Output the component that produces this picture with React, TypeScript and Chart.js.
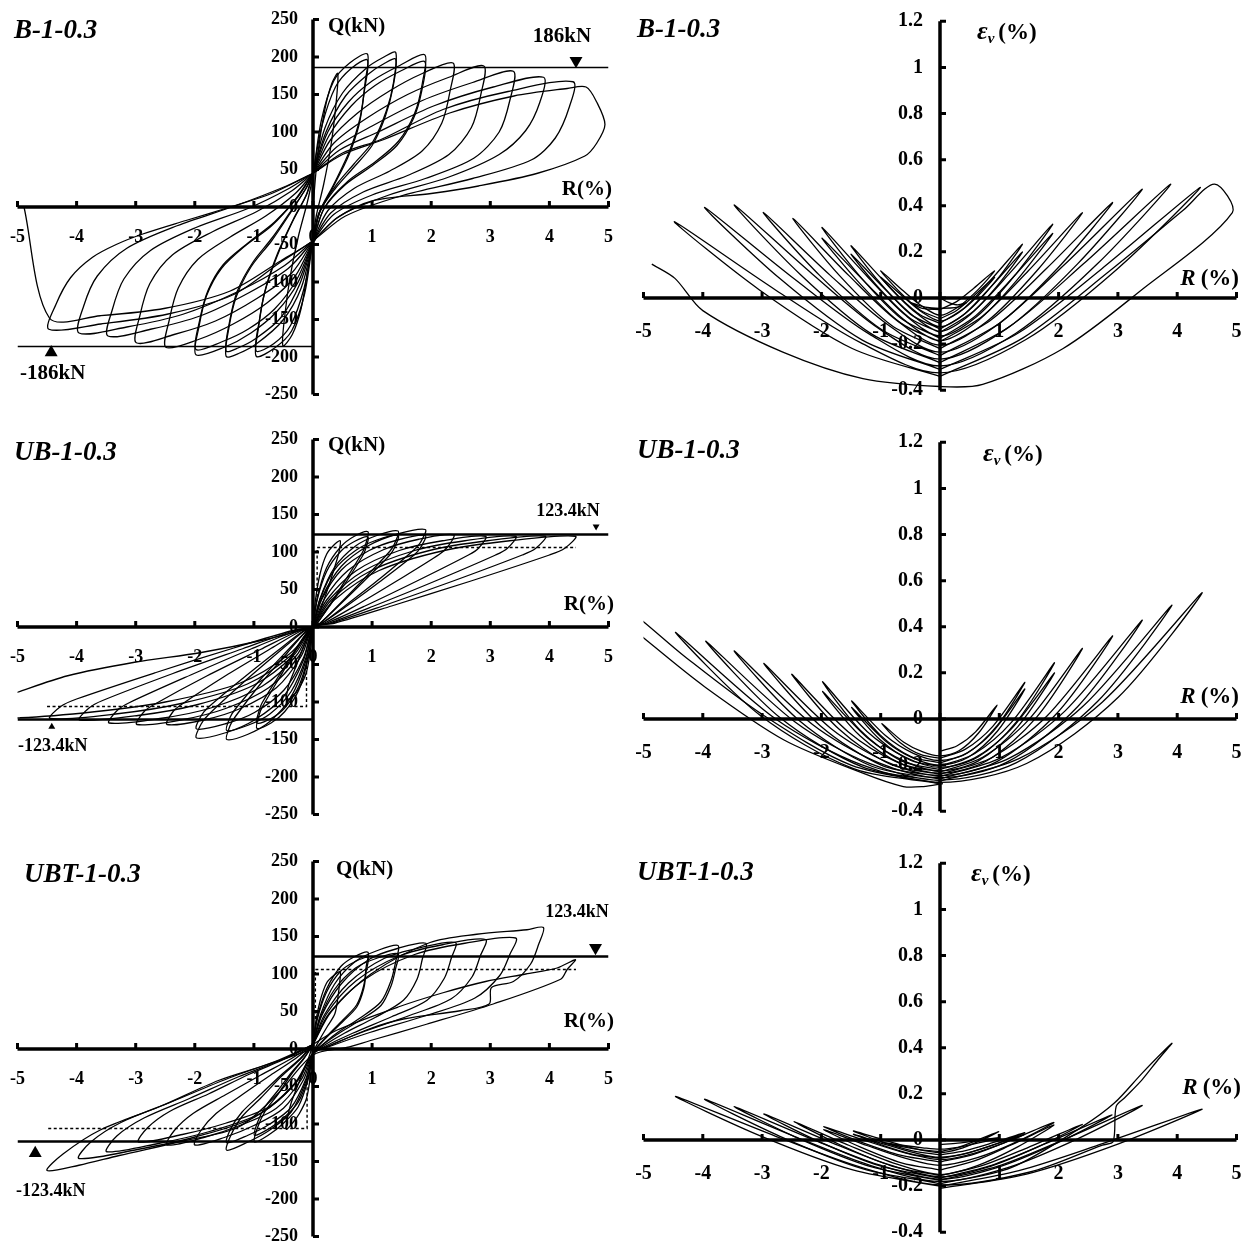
import React, { useEffect, useRef } from 'react';
import { Chart, registerables } from 'chart.js';

Chart.register(...registerables);

type Pt = [number, number];

// ---------------- tick labels ----------------
const R_TICKS = [-5, -4, -3, -2, -1, 0, 1, 2, 3, 4, 5];
const Q_TICKS = [250, 200, 150, 100, 50, 0, -50, -100, -150, -200, -250];
const EV_TICKS = [1.2, 1, 0.8, 0.6, 0.4, 0.2, 0, -0.2, -0.4];

// ---------------- reference values ----------------
const B1_PEAK = 186;
const UB_PEAK = 123.4;
const UB_YIELD = 106;

// ---------------- B-1-0.3 : Q vs R ----------------
const B1_Q_LOOPS: Pt[][] = [
  [[0,0],[0.08,70],[0.2,130],[0.32,165],[0.42,178],[0.38,130],[0.3,80],[0.18,30],[0.06,-10],[0,-40],[-0.08,-80],[-0.2,-135],[-0.35,-170],[-0.51,-185],[-0.47,-140],[-0.38,-90],[-0.25,-40],[-0.1,5],[0,40]],
  [[0,40],[0.14,115],[0.35,168],[0.62,192],[0.92,204],[0.88,165],[0.8,120],[0.62,75],[0.35,30],[0.12,-5],[0,-45],[-0.14,-115],[-0.36,-165],[-0.65,-188],[-0.96,-199],[-0.92,-160],[-0.82,-115],[-0.62,-68],[-0.35,-20],[-0.12,15],[0,45]],
  [[0,45],[0.15,108],[0.38,160],[0.65,185],[0.92,196],[0.87,155],[0.78,110],[0.6,68],[0.33,25],[0.1,-10],[0,-45],[-0.15,-108],[-0.38,-158],[-0.66,-182],[-0.96,-192],[-0.91,-152],[-0.8,-108],[-0.6,-62],[-0.33,-16],[-0.1,18],[0,45]],
  [[0,45],[0.2,105],[0.5,152],[0.9,185],[1.2,200],[1.4,206],[1.36,165],[1.24,128],[1.02,88],[0.7,58],[0.4,30],[0.12,-5],[0,-45],[-0.2,-108],[-0.52,-152],[-0.95,-182],[-1.25,-195],[-1.47,-199],[-1.42,-160],[-1.3,-120],[-1.05,-80],[-0.7,-45],[-0.4,-10],[-0.12,25],[0,45]],
  [[0,45],[0.22,100],[0.55,148],[0.95,178],[1.22,192],[1.4,197],[1.35,158],[1.22,120],[1.0,82],[0.68,52],[0.38,25],[0.1,-8],[0,-45],[-0.22,-102],[-0.55,-148],[-0.98,-176],[-1.27,-188],[-1.47,-192],[-1.41,-152],[-1.28,-112],[-1.02,-74],[-0.68,-40],[-0.38,-6],[-0.1,27],[0,45]],
  [[0,45],[0.25,100],[0.6,140],[1.0,168],[1.45,188],[1.89,203],[1.85,165],[1.72,125],[1.45,88],[1.05,60],[0.6,35],[0.2,0],[0,-45],[-0.25,-100],[-0.62,-140],[-1.05,-168],[-1.5,-187],[-1.98,-197],[-1.93,-160],[-1.8,-118],[-1.55,-82],[-1.15,-52],[-0.7,-25],[-0.3,10],[0,45]],
  [[0,45],[0.27,95],[0.65,135],[1.05,162],[1.5,182],[1.89,194],[1.84,155],[1.7,118],[1.42,82],[1.0,55],[0.55,30],[0.18,-3],[0,-45],[-0.27,-96],[-0.65,-136],[-1.1,-163],[-1.55,-180],[-1.98,-190],[-1.92,-152],[-1.78,-112],[-1.52,-77],[-1.1,-48],[-0.65,-20],[-0.25,14],[0,45]],
  [[0,45],[0.3,90],[0.75,125],[1.3,155],[1.85,178],[2.37,192],[2.32,155],[2.18,112],[1.85,75],[1.3,48],[0.7,25],[0.25,-5],[0,-45],[-0.3,-92],[-0.78,-128],[-1.35,-156],[-1.95,-177],[-2.49,-187],[-2.43,-150],[-2.28,-108],[-1.95,-70],[-1.4,-40],[-0.8,-12],[-0.3,18],[0,45]],
  [[0,45],[0.35,85],[0.9,118],[1.6,150],[2.3,173],[2.89,188],[2.84,150],[2.68,106],[2.3,70],[1.6,42],[0.85,20],[0.3,-8],[0,-45],[-0.36,-88],[-0.95,-122],[-1.65,-152],[-2.35,-170],[-2.99,-181],[-2.93,-145],[-2.76,-102],[-2.38,-64],[-1.7,-33],[-0.95,-6],[-0.35,22],[0,45]],
  [[0,45],[0.4,80],[1.0,108],[1.85,142],[2.7,166],[3.39,181],[3.33,142],[3.15,100],[2.72,65],[1.9,38],[1.0,16],[0.35,-10],[0,-45],[-0.42,-82],[-1.1,-115],[-1.9,-145],[-2.75,-163],[-3.47,-172],[-3.4,-138],[-3.2,-96],[-2.75,-58],[-2.0,-28],[-1.1,-2],[-0.4,25],[0,45]],
  [[0,45],[0.45,76],[1.1,100],[2.05,135],[3.05,160],[3.9,173],[3.84,140],[3.6,102],[3.15,70],[2.3,40],[1.25,15],[0.45,-12],[0,-45],[-0.48,-78],[-1.25,-112],[-2.2,-143],[-3.15,-160],[-3.96,-168],[-3.88,-132],[-3.65,-92],[-3.15,-55],[-2.3,-25],[-1.3,2],[-0.45,28],[0,45]],
  [[0,45],[0.5,72],[1.15,90],[2.2,130],[3.3,154],[4.4,167],[4.34,134],[4.1,92],[3.7,63],[2.7,38],[1.5,15],[0.55,-12],[0,-45],[-0.54,-73],[-1.35,-117],[-2.47,-143],[-3.59,-156],[-4.47,-163],[-4.35,-130],[-4.1,-94],[-3.73,-67],[-3.33,-50],[-2.88,-36],[-2.15,-18],[-1.4,0],[-0.7,18],[0,45]],
  [[0,45],[0.5,70],[1.2,90],[2.3,125],[3.4,148],[4.3,158],[4.62,160],[4.8,140],[4.94,110],[4.8,85],[4.6,68],[3.8,45],[2.8,28],[2.0,18],[1.0,8],[0.4,-15],[0,-45],[-0.55,-72],[-1.4,-112],[-2.5,-135],[-3.6,-145],[-4.46,-148],[-4.89,0]],
];

// ---------------- B-1-0.3 : εv vs R ----------------
const B1_EV_LOOPS: Pt[][] = [
  [[0,0],[0.15,-0.02],[0.3,-0.03],[0.45,-0.02],[0.3,-0.04],[0,-0.045],[-0.25,-0.04],[-0.5,-0.02],[-0.3,-0.045],[0,-0.05]],
  [[0,-0.05],[0.28,-0.016],[0.57,0.042],[0.92,0.118],[0.63,0.033],[0.3,-0.04],[0,-0.075],[-0.3,-0.036],[-0.62,0.031],[-1.0,0.118],[-0.68,0.026],[-0.33,-0.053],[0,-0.09]],
  [[0,-0.09],[0.28,-0.054],[0.57,0.009],[0.92,0.09],[0.63,0.006],[0.3,-0.066],[0,-0.1],[-0.3,-0.062],[-0.62,0.005],[-1.0,0.09],[-0.68,0.002],[-0.33,-0.074],[0,-0.11]],
  [[0,-0.11],[0.42,-0.041],[0.86,0.079],[1.39,0.234],[0.95,0.076],[0.46,-0.06],[0,-0.125],[-0.45,-0.055],[-0.93,0.069],[-1.5,0.227],[-1.02,0.068],[-0.5,-0.07],[0,-0.135]],
  [[0,-0.135],[0.42,-0.068],[0.86,0.049],[1.39,0.2],[0.95,0.048],[0.46,-0.083],[0,-0.145],[-0.45,-0.078],[-0.93,0.039],[-1.5,0.19],[-1.02,0.04],[-0.5,-0.089],[0,-0.15]],
  [[0,-0.15],[0.57,-0.056],[1.18,0.109],[1.9,0.32],[1.29,0.107],[0.63,-0.078],[0,-0.165],[-0.6,-0.071],[-1.23,0.094],[-1.99,0.306],[-1.35,0.094],[-0.66,-0.088],[0,-0.175]],
  [[0,-0.175],[0.57,-0.084],[1.18,0.075],[1.9,0.28],[1.29,0.075],[0.63,-0.101],[0,-0.185],[-0.6,-0.096],[-1.23,0.06],[-1.99,0.26],[-1.35,0.062],[-0.66,-0.109],[0,-0.19]],
  [[0,-0.19],[0.72,-0.078],[1.49,0.118],[2.4,0.37],[1.63,0.117],[0.79,-0.102],[0,-0.205],[-0.74,-0.095],[-1.54,0.098],[-2.48,0.345],[-1.69,0.096],[-0.82,-0.118],[0,-0.22]],
  [[0,-0.22],[0.87,-0.093],[1.8,0.129],[2.91,0.414],[1.98,0.128],[0.96,-0.118],[0,-0.235],[-0.89,-0.114],[-1.85,0.098],[-2.98,0.371],[-2.03,0.098],[-0.98,-0.138],[0,-0.25]],
  [[0,-0.25],[1.02,-0.106],[2.11,0.147],[3.41,0.472],[2.32,0.148],[1.13,-0.132],[0,-0.265],[-1.04,-0.131],[-2.15,0.103],[-3.47,0.404],[-2.36,0.103],[-1.15,-0.157],[0,-0.28]],
  [[0,-0.28],[1.17,-0.125],[2.41,0.146],[3.89,0.494],[2.65,0.147],[1.28,-0.153],[0,-0.295],[-1.19,-0.157],[-2.46,0.083],[-3.97,0.393],[-2.7,0.084],[-1.31,-0.183],[0,-0.31]],
  [[0,-0.31],[1.32,-0.152],[2.72,0.125],[4.39,0.48],[2.99,0.126],[1.45,-0.18],[0,-0.325],[-1.34,-0.194],[-2.78,0.036],[-4.48,0.331],[-3.05,0.036],[-1.48,-0.219],[0,-0.34]],
  [[0,-0.34],[1.4,-0.173],[2.87,0.119],[4.1,0.38],[4.63,0.494],[4.93,0.37],[3.35,0.025],[2.07,-0.22],[0.72,-0.375],[0,-0.384],[-1.3,-0.35],[-2.65,-0.235],[-4.0,-0.055],[-4.47,0.085],[-4.86,0.147]],
];

// ---------------- UB-1-0.3 : Q vs R ----------------
const UB_Q_LOOPS: Pt[][] = [
  [[0,0],[0.04,35],[0.12,71],[0.23,97],[0.35,109],[0.46,115],[0.44,100],[0.41,91],[0.28,58],[0.14,26],[0.04,5],[0,0],[-0.04,-29],[-0.11,-60],[-0.23,-81],[-0.34,-92],[-0.45,-97],[-0.43,-84],[-0.41,-77],[-0.27,-49],[-0.14,-22],[-0.04,-4],[0,0]],
  [[0,0],[0.07,38],[0.23,79],[0.47,107],[0.7,121],[0.93,127],[0.89,110],[0.84,100],[0.56,64],[0.28,29],[0.07,5],[0,0],[-0.08,-41],[-0.24,-84],[-0.48,-113],[-0.71,-128],[-0.95,-135],[-0.91,-117],[-0.86,-107],[-0.57,-68],[-0.29,-31],[-0.08,-5],[0,0]],
  [[0,0],[0.07,36],[0.23,74],[0.47,101],[0.7,114],[0.93,120],[0.89,104],[0.84,95],[0.56,60],[0.28,28],[0.07,5],[0,0],[-0.08,-38],[-0.24,-79],[-0.48,-108],[-0.71,-122],[-0.95,-128],[-0.91,-111],[-0.86,-101],[-0.57,-64],[-0.29,-29],[-0.08,-5],[0,0]],
  [[0,0],[0.12,38],[0.36,79],[0.72,108],[1.08,122],[1.44,128],[1.38,111],[1.3,101],[0.86,64],[0.43,29],[0.12,5],[0,0],[-0.12,-45],[-0.37,-93],[-0.73,-126],[-1.1,-143],[-1.46,-150],[-1.4,-131],[-1.31,-119],[-0.88,-75],[-0.44,-35],[-0.12,-6],[0,0]],
  [[0,0],[0.12,37],[0.36,76],[0.72,102],[1.08,116],[1.44,122],[1.38,106],[1.3,96],[0.86,61],[0.43,28],[0.12,5],[0,0],[-0.12,-41],[-0.37,-86],[-0.73,-116],[-1.1,-131],[-1.46,-138],[-1.4,-120],[-1.31,-109],[-0.88,-69],[-0.44,-32],[-0.12,-6],[0,0]],
  [[0,0],[0.15,39],[0.48,81],[0.95,109],[1.43,124],[1.9,130],[1.82,113],[1.71,103],[1.14,65],[0.57,30],[0.15,5],[0,0],[-0.16,-44],[-0.49,-92],[-0.99,-124],[-1.48,-141],[-1.97,-148],[-1.89,-129],[-1.77,-117],[-1.18,-74],[-0.59,-34],[-0.16,-6],[0,0]],
  [[0,0],[0.15,37],[0.48,76],[0.95,102],[1.43,116],[1.9,122],[1.82,106],[1.71,96],[1.14,61],[0.57,28],[0.15,5],[0,0],[-0.16,-41],[-0.49,-84],[-0.99,-114],[-1.48,-129],[-1.97,-136],[-1.89,-118],[-1.77,-107],[-1.18,-68],[-0.59,-31],[-0.16,-5],[0,0]],
  [[0,0],[0.19,37],[0.6,76],[1.19,103],[1.79,117],[2.38,123],[2.28,107],[2.14,97],[1.43,62],[0.71,28],[0.19,5],[0,0],[-0.2,-39],[-0.62,-81],[-1.24,-109],[-1.85,-124],[-2.47,-130],[-2.37,-113],[-2.22,-103],[-1.48,-65],[-0.74,-30],[-0.2,-5],[0,0]],
  [[0,0],[0.23,36],[0.73,75],[1.46,102],[2.19,115],[2.92,121],[2.8,105],[2.63,96],[1.75,61],[0.88,28],[0.23,5],[0,0],[-0.24,-39],[-0.75,-81],[-1.49,-109],[-2.24,-124],[-2.98,-130],[-2.86,-113],[-2.68,-103],[-1.79,-65],[-0.89,-30],[-0.24,-5],[0,0]],
  [[0,0],[0.27,36],[0.86,75],[1.72,102],[2.57,115],[3.43,121],[3.29,105],[3.09,96],[2.06,61],[1.03,28],[0.27,5],[0,0],[-0.28,-38],[-0.86,-79],[-1.73,-108],[-2.59,-122],[-3.45,-128],[-3.31,-111],[-3.11,-101],[-2.07,-64],[-1.04,-29],[-0.28,-5],[0,0]],
  [[0,0],[0.31,36],[0.98,75],[1.97,102],[2.95,115],[3.93,121],[3.77,105],[3.54,96],[2.36,61],[1.18,28],[0.31,5],[0,0],[-0.32,-37],[-0.99,-77],[-1.98,-104],[-2.96,-118],[-3.95,-124],[-3.79,-108],[-3.56,-98],[-2.37,-62],[-1.19,-29],[-0.32,-5],[0,0]],
  [[0,0],[0.36,36],[1.11,75],[2.22,102],[3.33,115],[4.44,121],[4.26,105],[4.0,96],[2.66,61],[1.33,28],[0.36,5],[0,0],[-0.36,-37],[-1.11,-76],[-2.23,-102],[-3.34,-116],[-4.45,-122],[-4.27,-106],[-4.0,-96],[-2.67,-61],[-1.34,-28],[-0.36,-5],[0,0]],
  [[0,0],[-0.4,-36],[-1.24,-75],[-2.5,-100],[-3.7,-113],[-4.95,-121],[-5.3,-118],[-5.3,-96],[-5.0,-87],[-4.15,-65],[-3.02,-47],[-1.89,-34],[-0.76,-16],[0,0]],
];

// ---------------- UB-1-0.3 : εv vs R ----------------
const UB_EV_LOOPS: Pt[][] = [
  [[0,-0.14],[0.29,-0.116],[0.6,-0.056],[0.96,0.06],[0.65,-0.061],[0.32,-0.138],[0,-0.16],[-0.29,-0.143],[-0.61,-0.101],[-0.98,-0.02],[-0.67,-0.103],[-0.32,-0.155],[0,-0.17]],
  [[0,-0.17],[0.43,-0.131],[0.89,-0.032],[1.43,0.159],[0.97,-0.027],[0.47,-0.146],[0,-0.18],[-0.45,-0.149],[-0.92,-0.072],[-1.49,0.078],[-1.01,-0.069],[-0.49,-0.163],[0,-0.19]],
  [[0,-0.19],[0.43,-0.152],[0.89,-0.056],[1.43,0.13],[0.97,-0.052],[0.47,-0.167],[0,-0.2],[-0.45,-0.17],[-0.92,-0.095],[-1.49,0.05],[-1.01,-0.09],[-0.49,-0.18],[0,-0.205]],
  [[0,-0.205],[0.58,-0.151],[1.2,-0.016],[1.93,0.244],[1.31,-0.006],[0.64,-0.165],[0,-0.21],[-0.59,-0.165],[-1.23,-0.054],[-1.98,0.162],[-1.35,-0.048],[-0.65,-0.182],[0,-0.22]],
  [[0,-0.22],[0.58,-0.17],[1.2,-0.044],[1.93,0.2],[1.31,-0.034],[0.64,-0.183],[0,-0.225],[-0.59,-0.184],[-1.23,-0.08],[-1.98,0.12],[-1.35,-0.073],[-0.65,-0.195],[0,-0.23]],
  [[0,-0.23],[0.72,-0.166],[1.49,-0.005],[2.4,0.306],[1.63,0.008],[0.79,-0.181],[0,-0.235],[-0.75,-0.184],[-1.55,-0.055],[-2.5,0.194],[-1.7,-0.045],[-0.83,-0.197],[0,-0.24]],
  [[0,-0.24],[0.87,-0.168],[1.8,0.012],[2.91,0.36],[1.98,0.027],[0.96,-0.185],[0,-0.245],[-0.89,-0.187],[-1.84,-0.041],[-2.97,0.241],[-2.02,-0.029],[-0.98,-0.201],[0,-0.25]],
  [[0,-0.25],[1.02,-0.169],[2.11,0.035],[3.41,0.429],[2.32,0.053],[1.13,-0.187],[0,-0.255],[-1.04,-0.189],[-2.15,-0.024],[-3.47,0.295],[-2.36,-0.01],[-1.15,-0.205],[0,-0.26]],
  [[0,-0.26],[1.17,-0.17],[2.42,0.057],[3.91,0.494],[2.66,0.077],[1.29,-0.189],[0,-0.265],[-1.19,-0.193],[-2.45,-0.012],[-3.95,0.338],[-2.69,0.004],[-1.3,-0.209],[0,-0.27]],
  [[0,-0.27],[1.33,-0.172],[2.74,0.074],[4.42,0.548],[3.01,0.095],[1.46,-0.193],[0,-0.275],[-1.34,-0.197],[-2.77,0.0],[-4.46,0.376],[-3.03,0.015],[-1.47,-0.214],[0,-0.28]],
  [[0,-0.28],[-1.5,-0.2],[-3.0,0.02],[-4.3,0.27],[-5.0,0.422],[-5.3,0.48],[-5.3,0.42],[-4.99,0.35],[-3.97,0.14],[-2.63,-0.091],[-1.29,-0.236],[-0.62,-0.293],[-0.28,-0.293],[0.05,-0.28]],
];

// ---------------- UBT-1-0.3 : Q vs R ----------------
const UBT_Q_LOOPS: Pt[][] = [
  [[0,0],[0.04,33],[0.12,64],[0.23,88],[0.35,98],[0.46,103],[0.45,88],[0.42,68],[0.37,47],[0.25,31],[0.13,15],[0.04,2],[0,-6],[-0.04,-34],[-0.11,-66],[-0.23,-86],[-0.34,-98],[-0.45,-107],[-0.43,-91],[-0.37,-72],[-0.27,-51],[-0.16,-29],[-0.07,-11],[0,6]],
  [[0,6],[0.07,41],[0.23,80],[0.47,110],[0.7,123],[0.93,129],[0.9,110],[0.86,85],[0.74,59],[0.51,39],[0.26,19],[0.07,3],[0,-6],[-0.08,-40],[-0.25,-77],[-0.5,-99],[-0.74,-114],[-0.99,-124],[-0.94,-105],[-0.81,-83],[-0.59,-60],[-0.36,-33],[-0.15,-12],[0,6]],
  [[0,6],[0.07,39],[0.23,76],[0.47,104],[0.7,116],[0.93,122],[0.9,104],[0.86,81],[0.74,56],[0.51,37],[0.26,18],[0.07,2],[0,-6],[-0.08,-37],[-0.25,-71],[-0.5,-92],[-0.74,-106],[-0.99,-115],[-0.94,-98],[-0.81,-77],[-0.59,-55],[-0.36,-31],[-0.15,-12],[0,6]],
  [[0,6],[0.12,44],[0.36,86],[0.72,117],[1.08,131],[1.44,138],[1.4,117],[1.32,91],[1.15,63],[0.79,41],[0.4,21],[0.12,3],[0,-6],[-0.12,-43],[-0.37,-84],[-0.73,-108],[-1.1,-124],[-1.46,-135],[-1.39,-115],[-1.2,-90],[-0.88,-65],[-0.53,-36],[-0.22,-14],[0,6]],
  [[0,6],[0.12,41],[0.36,79],[0.72,108],[1.08,121],[1.44,127],[1.4,108],[1.32,84],[1.15,58],[0.79,38],[0.4,19],[0.12,3],[0,-6],[-0.12,-40],[-0.37,-78],[-0.73,-100],[-1.1,-115],[-1.46,-125],[-1.39,-106],[-1.2,-84],[-0.88,-60],[-0.53,-34],[-0.22,-13],[0,6]],
  [[0,6],[0.15,45],[0.48,87],[0.96,120],[1.43,134],[1.91,141],[1.85,120],[1.76,93],[1.53,65],[1.05,42],[0.53,21],[0.15,3],[0,-6],[-0.16,-41],[-0.5,-79],[-1.0,-102],[-1.5,-118],[-2.0,-128],[-1.9,-109],[-1.64,-86],[-1.2,-61],[-0.72,-35],[-0.3,-13],[0,6]],
  [[0,6],[0.19,45],[0.6,88],[1.21,121],[1.81,135],[2.41,142],[2.34,121],[2.22,94],[1.93,65],[1.33,43],[0.67,21],[0.19,3],[0,-6],[-0.2,-41],[-0.62,-79],[-1.24,-102],[-1.85,-118],[-2.47,-128],[-2.35,-109],[-2.03,-86],[-1.48,-61],[-0.89,-35],[-0.37,-13],[0,6]],
  [[0,6],[0.23,47],[0.73,91],[1.46,124],[2.19,139],[2.92,146],[2.83,124],[2.69,96],[2.34,67],[1.61,44],[0.82,22],[0.23,3],[0,-6],[-0.24,-40],[-0.74,-77],[-1.48,-99],[-2.21,-114],[-2.95,-124],[-2.8,-105],[-2.42,-83],[-1.77,-60],[-1.06,-33],[-0.44,-12],[0,6]],
  [[0,6],[0.27,47],[0.86,92],[1.72,126],[2.57,141],[3.43,148],[3.33,126],[3.16,98],[2.74,68],[1.89,44],[0.96,22],[0.27,3],[0,-6],[-0.28,-44],[-0.87,-85],[-1.75,-110],[-2.62,-126],[-3.49,-137],[-3.32,-116],[-2.86,-92],[-2.09,-66],[-1.26,-37],[-0.52,-14],[0,6]],
  [[0,6],[0.31,50],[0.98,100],[1.98,142],[2.77,153],[3.62,159],[3.9,162],[3.82,140],[3.68,113],[3.39,90],[3.02,82],[2.98,60],[2.49,51],[1.53,40],[0.96,27],[0.3,5],[0,-6],[-0.32,-47],[-0.99,-91],[-1.98,-117],[-2.97,-134],[-3.96,-146],[-3.76,-124],[-3.25,-98],[-2.38,-70],[-1.43,-39],[-0.59,-15],[0,6]],
  [[0,6],[0.4,25],[1.44,56],[2.2,75],[2.92,90],[3.6,100],[4.13,108],[4.44,119],[4.3,106],[4.19,93],[3.05,60],[1.92,33],[0.96,11],[0.57,2],[0,-8],[-0.6,-60],[-1.26,-104],[-2.27,-124],[-3.28,-142],[-3.96,-155],[-4.5,-162],[-4.23,-140],[-3.6,-108],[-2.6,-77],[-1.6,-42],[-0.9,-24],[0,0]],
];

// ---------------- UBT-1-0.3 : εv vs R ----------------
const UBT_EV_LOOPS: Pt[][] = [
  [[0,-0.02],[0.3,-0.014],[0.61,-0.004],[0.99,0.01],[0.67,-0.012],[0.33,-0.031],[0,-0.04],[-0.29,-0.034],[-0.61,-0.024],[-0.98,-0.01],[-0.67,-0.028],[-0.32,-0.043],[0,-0.05]],
  [[0,-0.05],[0.3,-0.033],[0.61,-0.003],[0.99,0.036],[0.67,-0.004],[0.33,-0.039],[0,-0.055],[-0.44,-0.036],[-0.91,-0.003],[-1.46,0.039],[-0.99,-0.007],[-0.48,-0.046],[0,-0.065]],
  [[0,-0.065],[0.43,-0.046],[0.89,-0.012],[1.43,0.032],[0.97,-0.015],[0.47,-0.056],[0,-0.075],[-0.44,-0.055],[-0.91,-0.02],[-1.46,0.025],[-0.99,-0.021],[-0.48,-0.061],[0,-0.08]],
  [[0,-0.08],[0.43,-0.059],[0.89,-0.022],[1.43,0.025],[0.97,-0.023],[0.47,-0.065],[0,-0.085],[-0.59,-0.056],[-1.22,-0.006],[-1.96,0.058],[-1.33,-0.009],[-0.65,-0.067],[0,-0.095]],
  [[0,-0.095],[0.58,-0.061],[1.19,-0.001],[1.92,0.076],[1.31,-0.006],[0.63,-0.077],[0,-0.11],[-0.59,-0.079],[-1.22,-0.025],[-1.96,0.045],[-1.33,-0.032],[-0.65,-0.099],[0,-0.13]],
  [[0,-0.13],[0.58,-0.091],[1.19,-0.023],[1.92,0.065],[1.31,-0.03],[0.63,-0.111],[0,-0.15],[-0.74,-0.104],[-1.53,-0.024],[-2.46,0.08],[-1.67,-0.023],[-0.81,-0.113],[0,-0.155]],
  [[0,-0.155],[0.72,-0.11],[1.49,-0.032],[2.4,0.068],[1.63,-0.032],[0.79,-0.119],[0,-0.16],[-0.89,-0.105],[-1.84,-0.01],[-2.97,0.113],[-2.02,-0.009],[-0.98,-0.115],[0,-0.165]],
  [[0,-0.165],[0.87,-0.11],[1.8,-0.014],[2.9,0.109],[1.97,-0.014],[0.96,-0.12],[0,-0.17],[-1.04,-0.107],[-2.15,0.003],[-3.47,0.145],[-2.36,0.004],[-1.15,-0.117],[0,-0.175]],
  [[0,-0.175],[1.02,-0.11],[2.11,0.004],[3.41,0.15],[2.32,0.005],[1.13,-0.121],[0,-0.18],[-1.19,-0.109],[-2.46,0.016],[-3.97,0.177],[-2.7,0.016],[-1.31,-0.124],[0,-0.19]],
  [[0,-0.19],[1.2,-0.12],[2.4,0.058],[2.94,0.16],[3.41,0.29],[3.91,0.419],[3.68,0.349],[3.41,0.262],[3.11,0.182],[2.97,0.145],[2.92,-0.007],[2.74,-0.022],[1.5,-0.14],[0,-0.195],[-1.34,-0.118],[-2.77,0.016],[-4.46,0.189],[-3.03,0.018],[-1.47,-0.13],[0,-0.2]],
  [[0,-0.2],[1.33,-0.133],[2.74,-0.016],[4.42,0.134],[3.01,-0.017],[1.46,-0.148],[0,-0.21]],
];

// ---------------- presentation ----------------
const SERIF = '"Liberation Serif", "Times New Roman", Times, serif';

interface Part { t: string; size: number; style: string; dy?: number; pre?: number }
interface TextItem { parts: Part[]; x: number; y: number; align: 'left' | 'right' | 'center' }
interface RefLine { pts: Pt[]; w: number; dash?: number[] }
interface Marker { x: number; y: number; down: boolean; r: number }
interface PanelCfg {
  left: number; top: number; w: number; h: number;
  pad: { left: number; right: number; top: number; bottom: number };
  yMin: number; yMax: number; yTicks: number[];
  kind: 'Q' | 'E';
  loops: Pt[][];
  refs: RefLine[];
  markers: Marker[];
  texts: TextItem[];
}

const T = (t: string, x: number, y: number, size: number, style = 'bold', align: 'left' | 'right' | 'center' = 'left'): TextItem =>
  ({ parts: [{ t, size, style }], x, y, align });
const EV = (x: number, y: number): TextItem => ({
  parts: [
    { t: 'ε', size: 26, style: 'bold italic' },
    { t: 'v', size: 15, style: 'bold italic', dy: 4 },
    { t: '(%)', size: 23, style: 'bold', pre: 4 },
  ], x, y, align: 'left',
});
const RP = (x: number, y: number): TextItem => ({
  parts: [
    { t: 'R', size: 23, style: 'bold italic' },
    { t: '(%)', size: 23, style: 'bold', pre: 5 },
  ], x, y, align: 'right',
});

const DASH = [3, 2.5];

const PANELS: PanelCfg[] = [
  {
    left: 0, top: 0, w: 626, h: 420,
    pad: { left: 17.5, right: 17.5, top: 19.5, bottom: 25.5 },
    yMin: -250, yMax: 250, yTicks: Q_TICKS, kind: 'Q', loops: B1_Q_LOOPS,
    refs: [
      { pts: [[0, B1_PEAK], [5, B1_PEAK]], w: 1.3 },
      { pts: [[-5, -B1_PEAK], [0, -B1_PEAK]], w: 1.3 },
    ],
    markers: [{ x: 4.45, y: 195, down: true, r: 7.5 }, { x: -4.43, y: -194, down: false, r: 7.5 }],
    texts: [
      T('B-1-0.3', 14, 38, 27, 'bold italic'),
      T('Q(kN)', 328, 32, 21),
      T('R(%)', 612, 195, 21, 'bold', 'right'),
      T(`${B1_PEAK}kN`, 562, 42, 21, 'bold', 'center'),
      T(`-${B1_PEAK}kN`, 20, 379, 21),
    ],
  },
  {
    left: 626, top: 0, w: 626, h: 420,
    pad: { left: 17.5, right: 15.5, top: 21.3, bottom: 29.8 },
    yMin: -0.4, yMax: 1.2, yTicks: EV_TICKS, kind: 'E', loops: B1_EV_LOOPS,
    refs: [], markers: [],
    texts: [T('B-1-0.3', 11, 37, 27, 'bold italic'), EV(351, 39), RP(613, 285)],
  },
  {
    left: 0, top: 420, w: 626, h: 420,
    pad: { left: 17.5, right: 17.5, top: 19.5, bottom: 25.5 },
    yMin: -250, yMax: 250, yTicks: Q_TICKS, kind: 'Q', loops: UB_Q_LOOPS,
    refs: [
      { pts: [[0, UB_PEAK], [5, UB_PEAK]], w: 2.6 },
      { pts: [[-5, -UB_PEAK], [0, -UB_PEAK]], w: 2.6 },
      { pts: [[0.07, 40], [0.07, UB_YIELD], [4.45, UB_YIELD]], w: 1.4, dash: DASH },
      { pts: [[-4.5, -UB_YIELD], [-0.11, -UB_YIELD], [-0.11, -45]], w: 1.4, dash: DASH },
    ],
    markers: [{ x: 4.79, y: 134, down: true, r: 4 }, { x: -4.42, y: -133, down: false, r: 4 }],
    texts: [
      T('UB-1-0.3', 14, 40, 27, 'bold italic'),
      T('Q(kN)', 328, 31, 21),
      T('R(%)', 614, 190, 21, 'bold', 'right'),
      T(`${UB_PEAK}kN`, 568, 96, 18, 'bold', 'center'),
      T(`-${UB_PEAK}kN`, 18, 331, 18),
    ],
  },
  {
    left: 626, top: 420, w: 626, h: 420,
    pad: { left: 17.5, right: 15.5, top: 22.3, bottom: 28.8 },
    yMin: -0.4, yMax: 1.2, yTicks: EV_TICKS, kind: 'E', loops: UB_EV_LOOPS,
    refs: [], markers: [],
    texts: [T('UB-1-0.3', 11, 38, 27, 'bold italic'), EV(357, 41), RP(613, 283)],
  },
  {
    left: 0, top: 840, w: 626, h: 406,
    pad: { left: 17.5, right: 17.5, top: 21.5, bottom: 9.5 },
    yMin: -250, yMax: 250, yTicks: Q_TICKS, kind: 'Q', loops: UBT_Q_LOOPS,
    refs: [
      { pts: [[0, UB_PEAK], [5, UB_PEAK]], w: 2.6 },
      { pts: [[-5, -UB_PEAK], [0, -UB_PEAK]], w: 2.6 },
      { pts: [[0.04, 40], [0.04, UB_YIELD], [4.45, UB_YIELD]], w: 1.4, dash: DASH },
      { pts: [[-4.48, -UB_YIELD], [-0.1, -UB_YIELD], [-0.1, -45]], w: 1.4, dash: DASH },
    ],
    markers: [{ x: 4.78, y: 135, down: true, r: 7.5 }, { x: -4.7, y: -139, down: false, r: 7.5 }],
    texts: [
      T('UBT-1-0.3', 24, 42, 27, 'bold italic'),
      T('Q(kN)', 336, 35, 21),
      T('R(%)', 614, 187, 21, 'bold', 'right'),
      T(`${UB_PEAK}kN`, 577, 77, 18, 'bold', 'center'),
      T(`-${UB_PEAK}kN`, 16, 356, 18),
    ],
  },
  {
    left: 626, top: 840, w: 626, h: 406,
    pad: { left: 17.5, right: 15.5, top: 23.3, bottom: 13.8 },
    yMin: -0.4, yMax: 1.2, yTicks: EV_TICKS, kind: 'E', loops: UBT_EV_LOOPS,
    refs: [], markers: [],
    texts: [T('UBT-1-0.3', 11, 40, 27, 'bold italic'), EV(345, 41), RP(615, 254)],
  },
];

function drawRich(ctx: CanvasRenderingContext2D, it: TextItem) {
  let total = 0;
  const widths = it.parts.map((p) => {
    ctx.font = `${p.style} ${p.size}px ${SERIF}`;
    const w = ctx.measureText(p.t).width + (p.pre || 0);
    total += w;
    return w;
  });
  let x = it.align === 'right' ? it.x - total : it.align === 'center' ? it.x - total / 2 : it.x;
  it.parts.forEach((p, i) => {
    ctx.font = `${p.style} ${p.size}px ${SERIF}`;
    ctx.fillText(p.t, x + (p.pre || 0), it.y + (p.dy || 0));
    x += widths[i];
  });
}

function makePlugin(p: PanelCfg) {
  return {
    id: 'decor',
    beforeDatasetsDraw(chart: any) {
      const ctx: CanvasRenderingContext2D = chart.ctx;
      const xs = chart.scales.x;
      const ys = chart.scales.y;
      const x0 = xs.getPixelForValue(0);
      const y0 = ys.getPixelForValue(0);
      const isQ = p.kind === 'Q';
      ctx.save();
      ctx.fillStyle = '#000';
      ctx.font = `bold ${isQ ? 18 : 20}px ${SERIF}`;
      ctx.textAlign = 'right';
      ctx.textBaseline = 'middle';
      for (const v of p.yTicks) ctx.fillText(String(v), x0 - (isQ ? 15 : 17), ys.getPixelForValue(v));
      ctx.textAlign = 'center';
      for (const v of R_TICKS) {
        if (!isQ && v === 0) continue;
        ctx.fillText(String(v), xs.getPixelForValue(v), y0 + (isQ ? 30 : 34));
      }
      ctx.restore();
    },
    afterDatasetsDraw(chart: any) {
      const ctx: CanvasRenderingContext2D = chart.ctx;
      const xs = chart.scales.x;
      const ys = chart.scales.y;
      const x0 = xs.getPixelForValue(0);
      const y0 = ys.getPixelForValue(0);
      ctx.save();
      ctx.strokeStyle = '#000';
      ctx.lineCap = 'butt';
      ctx.lineWidth = 3.5;
      ctx.beginPath();
      ctx.moveTo(xs.getPixelForValue(-5), y0);
      ctx.lineTo(xs.getPixelForValue(5), y0);
      ctx.stroke();
      ctx.beginPath();
      ctx.moveTo(x0, ys.getPixelForValue(p.yMax));
      ctx.lineTo(x0, ys.getPixelForValue(p.yMin));
      ctx.stroke();
      ctx.lineWidth = 3;
      ctx.beginPath();
      for (const v of R_TICKS) {
        const px = xs.getPixelForValue(v);
        ctx.moveTo(px, y0);
        ctx.lineTo(px, y0 - 6);
      }
      for (const v of p.yTicks) {
        const py = ys.getPixelForValue(v);
        ctx.moveTo(x0, py);
        ctx.lineTo(x0 + 6, py);
      }
      ctx.stroke();
      ctx.fillStyle = '#000';
      ctx.textBaseline = 'alphabetic';
      ctx.textAlign = 'left';
      for (const it of p.texts) drawRich(ctx, it);
      ctx.restore();
    },
  };
}

function PanelChart({ p }: { p: PanelCfg }) {
  const ref = useRef<HTMLCanvasElement>(null);
  useEffect(() => {
    const canvas = ref.current;
    if (!canvas) return;
    const datasets: any[] = [
      ...p.loops.map((l) => ({
        data: l.map(([x, y]) => ({ x, y })),
        showLine: true, borderColor: '#000', borderWidth: 1.3,
        pointRadius: 0, tension: 0.3, fill: false,
      })),
      ...p.refs.map((r) => ({
        data: r.pts.map(([x, y]) => ({ x, y })),
        showLine: true, borderColor: '#000', borderWidth: r.w,
        borderDash: r.dash || [], pointRadius: 0, tension: 0, fill: false,
      })),
      ...p.markers.map((m) => ({
        data: [{ x: m.x, y: m.y }],
        showLine: false, pointStyle: 'triangle', pointRadius: m.r,
        rotation: m.down ? 180 : 0, backgroundColor: '#000', borderColor: '#000', borderWidth: 0,
      })),
    ];
    const chart = new Chart(canvas, {
      type: 'scatter',
      data: { datasets },
      options: {
        animation: false,
        responsive: false,
        maintainAspectRatio: false,
        events: [],
        layout: { padding: p.pad },
        plugins: { legend: { display: false }, tooltip: { enabled: false }, title: { display: false } },
        scales: {
          x: { type: 'linear', min: -5, max: 5, display: false },
          y: { type: 'linear', min: p.yMin, max: p.yMax, display: false },
        },
      },
      plugins: [makePlugin(p)],
    } as any);
    return () => chart.destroy();
  }, [p]);
  return (
    <canvas
      ref={ref}
      width={p.w}
      height={p.h}
      style={{ position: 'absolute', left: p.left, top: p.top, width: p.w, height: p.h }}
    />
  );
}

export default function App() {
  return (
    <div style={{ position: 'absolute', left: 0, top: 0, width: 1252, height: 1246, background: '#fff', overflow: 'hidden' }}>
      {PANELS.map((p, i) => (
        <PanelChart key={i} p={p} />
      ))}
    </div>
  );
}
